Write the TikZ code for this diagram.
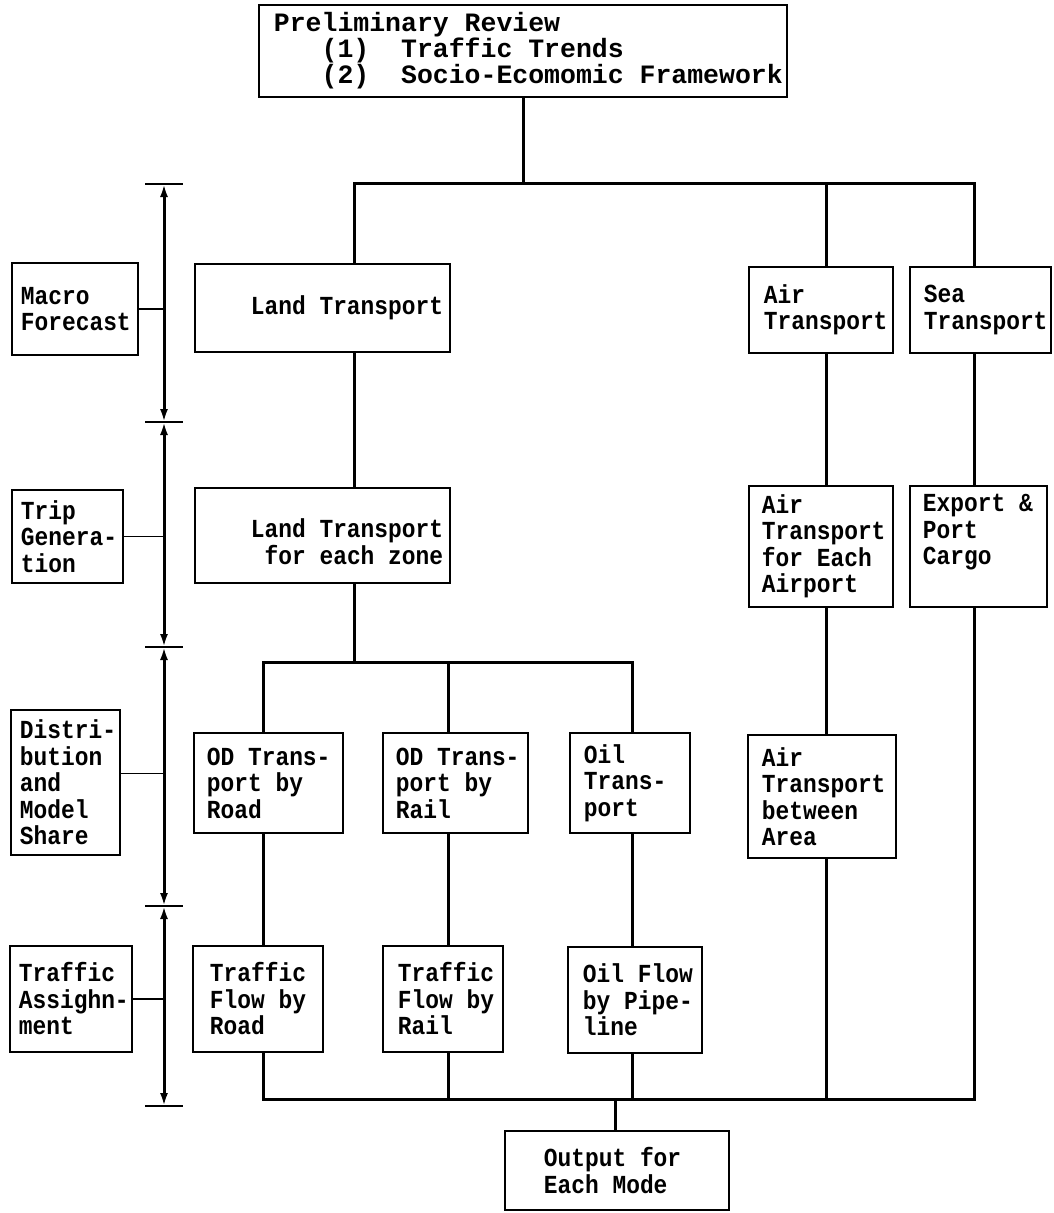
\documentclass[tikz,border=0pt]{standalone}
\usepackage{fontspec}
\usetikzlibrary{arrows.meta}
\newfontfamily\dmb[FakeStretch=0.88]{Liberation Mono}
\newfontfamily\dmt[FakeStretch=1.0]{Liberation Mono}
\begin{document}
\begin{tikzpicture}[x=1pt,y=-1pt,
  box/.style={draw, line width=2.6pt, inner sep=0pt},
  txt/.style={anchor=west, align=left, inner sep=0pt, font=\dmb\bfseries\fontsize{26}{26.5}\selectfont},
  ttxt/.style={anchor=west, align=left, inner sep=0pt, font=\dmt\bfseries\fontsize{26.5}{26}\selectfont},
  conn/.style={line width=3pt, line join=miter},
  thinconn/.style={line width=1.6pt},
  dimline/.style={line width=3pt, {Latex[length=13pt,width=8pt]}-{Latex[length=13pt,width=8pt]}},
  tickline/.style={line width=1.8pt}]
\fill[white] (0,0) rectangle (1054,1213);
\useasboundingbox (0,0) rectangle (1054,1213);

% boxes
\node[box, minimum width=528, minimum height=92] (pr) at (523,51) {};
\node[box, minimum width=126, minimum height=92] (macro) at (75,309) {};
\node[box, minimum width=111, minimum height=93] (trip) at (67.5,536.5) {};
\node[box, minimum width=109, minimum height=145] (dist) at (65.5,782.5) {};
\node[box, minimum width=122, minimum height=106] (assign) at (71,999) {};
\node[box, minimum width=255, minimum height=88] (land) at (322.5,308) {};
\node[box, minimum width=255, minimum height=95] (lzone) at (322.5,535.5) {};
\node[box, minimum width=144, minimum height=86] (air) at (821,310) {};
\node[box, minimum width=141, minimum height=86] (sea) at (980.5,310) {};
\node[box, minimum width=144, minimum height=121] (airport) at (821,546.5) {};
\node[box, minimum width=137, minimum height=121] (export) at (978.5,546.5) {};
\node[box, minimum width=149, minimum height=100] (odroad) at (268.5,783) {};
\node[box, minimum width=145, minimum height=100] (odrail) at (455.5,783) {};
\node[box, minimum width=120, minimum height=100] (oiltr) at (630,783) {};
\node[box, minimum width=148, minimum height=123] (airarea) at (822,796.5) {};
\node[box, minimum width=130, minimum height=106] (troad) at (258,999) {};
\node[box, minimum width=120, minimum height=106] (trail) at (443,999) {};
\node[box, minimum width=134, minimum height=106] (oilflow) at (635,1000) {};
\node[box, minimum width=224, minimum height=79] (output) at (617,1170.5) {};

% texts
\node[ttxt] (prt) at ([xshift=16pt]pr.west) {Preliminary Review\\~~~(1)~~Traffic Trends\\~~~(2)~~Socio-Ecomomic Framework};
\node[txt] (macrot) at ([xshift=10pt]macro.west) {Macro\\Forecast};
\node[txt] (tript) at ([xshift=10pt]trip.west) {Trip\\Genera-\\tion};
\node[txt] (distt) at ([xshift=10pt]dist.west) {Distri-\\bution\\and\\Model\\Share};
\node[txt] (assignt) at ([xshift=10pt]assign.west) {Traffic\\Assighn-\\ment};
\node[txt] (landt) at ([xshift=57pt]land.west) {Land Transport};
\node[txt] (lzonet) at ([xshift=57pt,yshift=-6pt]lzone.west) {Land Transport\\~for each zone};
\node[txt] (airt) at ([xshift=16pt]air.west) {Air\\Transport};
\node[txt] (seat) at ([xshift=15pt]sea.west) {Sea\\Transport};
\node[txt] (airportt) at ([xshift=14pt]airport.west) {Air\\Transport\\for Each\\Airport};
\node[txt, anchor=north west] (exportt) at ([xshift=14pt]export.west |- airportt.north) {Export \&\\Port\\Cargo};
\node[txt] (odroadt) at ([xshift=14pt]odroad.west) {OD Trans-\\port by\\Road};
\node[txt] (odrailt) at ([xshift=14pt]odrail.west) {OD Trans-\\port by\\Rail};
\node[txt] (oiltrt) at ([xshift=15pt]oiltr.west) {Oil\\Trans-\\port};
\node[txt] (airareat) at ([xshift=15pt]airarea.west) {Air\\Transport\\between\\Area};
\node[txt] (troadt) at ([xshift=18pt]troad.west) {Traffic\\Flow by\\Road};
\node[txt] (trailt) at ([xshift=16pt]trail.west) {Traffic\\Flow by\\Rail};
\node[txt] (oilflowt) at ([xshift=16pt]oilflow.west) {Oil Flow\\by Pipe-\\line};
\node[txt] (outputt) at ([xshift=40pt]output.west) {Output for\\Each Mode};

% bus coordinates
\coordinate (busL) at (354,183);
\coordinate (busA) at (826,183);
\coordinate (busR) at (974,183);
\coordinate (m0) at (354,662);
\coordinate (m1) at (263,662);
\coordinate (m2) at (448,662);
\coordinate (m3) at (632,662);
\coordinate (n1) at (263,1099);
\coordinate (n2) at (448,1099);
\coordinate (n3) at (632,1099);
\coordinate (n4) at (826,1099);
\coordinate (n5) at (974,1099);
\coordinate (no) at (615,1099);

% connectors
\draw[conn] (pr.south) -- (pr.south |- busL);
\draw[conn] (busL |- land.north) -- (busL) -- (busR) -- (busR |- sea.north);
\draw[conn] (busA) -- (busA |- air.north);
\draw[conn] (busL |- land.south) -- (busL |- lzone.north);
\draw[conn] (busL |- lzone.south) -- (m0);
\draw[conn] (m1 |- odroad.north) -- (m1) -- (m3) -- (m3 |- oiltr.north);
\draw[conn] (m2) -- (m2 |- odrail.north);
\draw[conn] (m1 |- odroad.south) -- (m1 |- troad.north);
\draw[conn] (m2 |- odrail.south) -- (m2 |- trail.north);
\draw[conn] (m3 |- oiltr.south) -- (m3 |- oilflow.north);
\draw[conn] (busA |- air.south) -- (busA |- airport.north);
\draw[conn] (busA |- airport.south) -- (busA |- airarea.north);
\draw[conn] (busR |- sea.south) -- (busR |- export.north);
\draw[conn] (m1 |- troad.south) -- (n1) -- (n5) -- (busR |- export.south);
\draw[conn] (m2 |- trail.south) -- (n2);
\draw[conn] (m3 |- oilflow.south) -- (n3);
\draw[conn] (busA |- airarea.south) -- (n4);
\draw[conn] (no) -- (no |- output.north);

% dimension line
\coordinate (t1) at (164,184);
\coordinate (t2) at (164,422);
\coordinate (t3) at (164,647);
\coordinate (t4) at (164,906);
\coordinate (t5) at (164,1106);
\foreach \t in {t1,t2,t3,t4,t5} \draw[tickline] ([xshift=-19pt]\t) -- ([xshift=19pt]\t);
\draw[dimline] (t1) -- (t2);
\draw[dimline] (t2) -- (t3);
\draw[dimline] (t3) -- (t4);
\draw[dimline] (t4) -- (t5);
\draw[thinconn] (macro.east) -- (macro.east -| t1);
\draw[thinconn] (trip.east) -- (trip.east -| t1);
\draw[thinconn] ([yshift=9pt]dist.east) -- ([yshift=9pt]dist.east -| t1);
\draw[thinconn] (assign.east) -- (assign.east -| t1);
\end{tikzpicture}
\end{document}
